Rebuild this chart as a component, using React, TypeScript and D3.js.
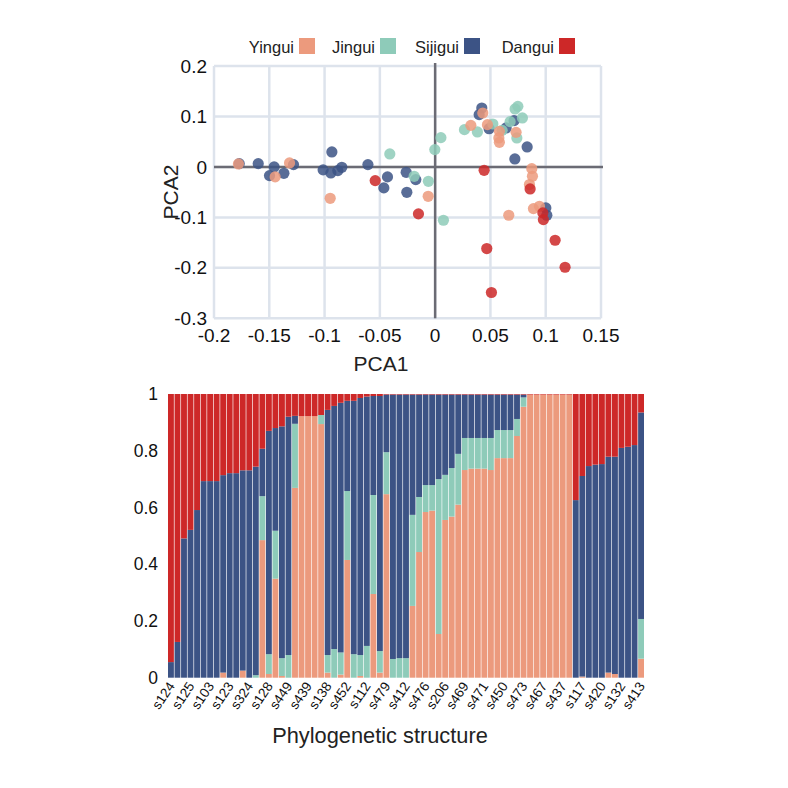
import React from "react";
import * as d3 from "d3";

// ---------- PCA scatter data ----------
const sijiguiPts: [number, number][] = [
  [-0.1772, 0.0065], [-0.160, 0.0065], [-0.1456, 0.0], [-0.1498, -0.0172], [-0.1368, -0.0127],
  [-0.1281, 0.0046], [-0.0934, 0.0297], [-0.1013, -0.0059], [-0.0943, -0.0119], [-0.0880, -0.0073],
  [-0.0844, -0.0008], [-0.0608, 0.0046], [-0.0431, -0.0198], [-0.0262, -0.0107], [-0.0464, -0.0416],
  [-0.0256, -0.0503], [-0.0175, -0.0251], [0.0721, 0.0158], [0.1001, -0.0812], [0.1010, -0.0958],
  [0.0422, 0.1168], [0.0398, 0.1036], [0.0488, 0.0758], [0.0642, 0.0772], [0.0714, 0.0917],
  [0.0832, 0.0396],
];
const jinguiPts: [number, number][] = [
  [-0.0410, 0.0257], [-0.0190, -0.0186], [-0.0061, -0.0285], [0.0075, -0.1057], [0.0052, 0.0580],
  [-0.0003, 0.0343], [0.0265, 0.0739], [0.0382, 0.0693], [0.0522, 0.0851], [0.0606, 0.0725],
  [0.0678, 0.0897], [0.0748, 0.1200], [0.0723, 0.1149], [0.0789, 0.0970], [0.0739, 0.0574],
];
const yinguiPts: [number, number][] = [
  [-0.1779, 0.0059], [-0.1447, -0.0198], [-0.1317, 0.0079], [-0.0949, -0.0622], [-0.0063, -0.0582],
  [0.0874, -0.0034], [0.0880, -0.0186], [0.0853, -0.0350], [0.0889, -0.0826], [0.0943, -0.0780],
  [0.0666, -0.0958], [0.0431, 0.1069], [0.0323, 0.0824], [0.0473, 0.0838], [0.0581, 0.0705],
  [0.0732, 0.0685], [0.0576, 0.0574], [0.0581, 0.0487],
];
const danguiPts: [number, number][] = [
  [-0.0542, -0.0271], [-0.0151, -0.0931], [0.0443, -0.0067], [0.0859, -0.0436], [0.0974, -0.0911],
  [0.0979, -0.1044], [0.0467, -0.1618], [0.1085, -0.1453], [0.1175, -0.1988], [0.0509, -0.2489],
];

const pcaXTicks = [-0.2, -0.15, -0.1, -0.05, 0, 0.05, 0.1, 0.15];
const pcaYTicks = [-0.3, -0.2, -0.1, 0, 0.1, 0.2];

// ---------- Structure bar data (73 samples) ----------
const yinguiQ = [
  0, 0, 0, 0, 0, 0, 0, 0, 0.018, 0, 0, 0.025, 0, 0, 0.485, 0.013, 0.349, 0.006, 0, 0.669,
  0.922, 0.922, 0.922, 0.894, 0.018, 0, 0.011, 0.415, 0, 0.006, 0, 0.295, 0.018, 0.647, 0, 0,
  0, 0.253, 0.443, 0.584, 0.589, 0.154, 0.556, 0.568, 0.610, 0.732, 0.737, 0.737, 0.737, 0.732,
  0.774, 0.774, 0.774, 0.852, 0.955, 0.998, 0.998, 0.998, 0.998, 0.998, 0.998, 0.998, 0, 0.004,
  0, 0, 0, 0.018, 0.013, 0, 0, 0, 0.067,
];
const jinguiQ = [
  0, 0, 0, 0, 0, 0, 0, 0, 0, 0, 0, 0, 0, 0.009, 0.155, 0.070, 0.169, 0.063, 0.080, 0.226,
  0, 0, 0, 0.032, 0.062, 0.101, 0.078, 0.243, 0.083, 0.074, 0.112, 0.349, 0.076, 0.148, 0.066, 0.069,
  0.069, 0.321, 0.194, 0.095, 0.090, 0.546, 0.159, 0.171, 0.179, 0.113, 0.108, 0.108, 0.108, 0.113,
  0.099, 0.099, 0.099, 0.060, 0.033, 0, 0, 0, 0, 0, 0, 0, 0, 0,
  0, 0, 0, 0, 0, 0, 0, 0, 0.140,
];
const sijiguiQ = [
  0.055, 0.126, 0.491, 0.521, 0.591, 0.693, 0.693, 0.693, 0.696, 0.721, 0.721, 0.706, 0.731, 0.735, 0.167, 0.787, 0.362, 0.817, 0.840, 0.028,
  0, 0, 0, 0, 0.864, 0.857, 0.880, 0.318, 0.893, 0.906, 0.879, 0.349, 0.899, 0.203, 0.932, 0.929,
  0.929, 0.424, 0.361, 0.319, 0.319, 0.298, 0.283, 0.259, 0.209, 0.153, 0.153, 0.153, 0.153, 0.153,
  0.125, 0.125, 0.125, 0.086, 0.010, 0, 0, 0, 0, 0, 0, 0, 0.626, 0.707,
  0.746, 0.751, 0.753, 0.761, 0.766, 0.810, 0.814, 0.820, 0.728,
];
const danguiQ = [
  0.945, 0.874, 0.509, 0.479, 0.409, 0.307, 0.307, 0.307, 0.286, 0.279, 0.279, 0.269, 0.269, 0.256, 0.193, 0.130, 0.120, 0.114, 0.080, 0.077,
  0.078, 0.078, 0.078, 0.074, 0.056, 0.042, 0.031, 0.024, 0.024, 0.014, 0.009, 0.007, 0.007, 0.002, 0.002, 0.002,
  0.002, 0.002, 0.002, 0.002, 0.002, 0.002, 0.002, 0.002, 0.002, 0.002, 0.002, 0.002, 0.002, 0.002,
  0.002, 0.002, 0.002, 0.002, 0.002, 0.002, 0.002, 0.002, 0.002, 0.002, 0.002, 0.002, 0.374, 0.289,
  0.254, 0.249, 0.247, 0.221, 0.221, 0.190, 0.186, 0.180, 0.065,
];
// every third sample is labelled
const sampleLabels = [
  "s124", "s125", "s103", "s123", "s324", "s128", "s449", "s439", "s138", "s452", "s112", "s479",
  "s412", "s476", "s206", "s469", "s471", "s450", "s473", "s467", "s437", "s117", "s420", "s132", "s413",
];
const barYTicks = [0, 0.2, 0.4, 0.6, 0.8, 1];

const groups = ["Yingui", "Jingui", "Sijigui", "Dangui"];
const colors: Record<string, string> = {
  Yingui: "#EC9A7D",
  Jingui: "#8ECBB9",
  Sijigui: "#3C5385",
  Dangui: "#CD2828",
};

const FONT = "'Liberation Sans', Arial, Helvetica, sans-serif";

export default function App() {
  // scatter scales
  const sx = d3.scaleLinear().domain([-0.2, 0.15]).range([214, 601]);
  const sy = d3.scaleLinear().domain([-0.3, 0.2]).range([318.3, 66]);

  // bar scales
  const n = yinguiQ.length;
  const bx = d3.scaleBand<number>().domain(d3.range(n)).range([168, 644]).paddingInner(0.1).paddingOuter(0);
  const by = d3.scaleLinear().domain([0, 1]).range([677.7, 394]);

  const rows = d3.range(n).map((i) => ({
    Yingui: yinguiQ[i],
    Jingui: jinguiQ[i],
    Sijigui: sijiguiQ[i],
    Dangui: danguiQ[i],
  }));
  const stacked = d3.stack<any>().keys(groups)(rows);

  const fmt = (v: number) => String(+v.toFixed(2));

  const legendSquareX = [299, 380, 464, 559];

  const scatterOrder: [string, [number, number][]][] = [
    ["Sijigui", sijiguiPts],
    ["Jingui", jinguiPts],
    ["Yingui", yinguiPts],
    ["Dangui", danguiPts],
  ];

  return (
    <svg
      width={788}
      height={788}
      style={{ position: "absolute", left: 0, top: 0, background: "#fff" }}
      fontFamily={FONT}
    >
      <rect x={0} y={0} width={788} height={788} fill="#fff" />
      {/* Legend */}
      {groups.map((g, i) => (
        <g key={g}>
          <text x={legendSquareX[i] - 5} y={52.5} fontSize={16.5} textAnchor="end" fill="#222">
            {g}
          </text>
          <rect x={legendSquareX[i]} y={38} width={16} height={16} fill={colors[g]} />
        </g>
      ))}

      {/* Scatter grid */}
      {pcaXTicks.map((t) => (
        <line key={"gx" + t} x1={sx(t)} x2={sx(t)} y1={sy(0.2)} y2={sy(-0.3)} stroke="#DDE3EC" strokeWidth={2.5} />
      ))}
      {pcaYTicks.map((t) => (
        <line key={"gy" + t} x1={sx(-0.2)} x2={sx(0.15)} y1={sy(t)} y2={sy(t)} stroke="#DDE3EC" strokeWidth={2.5} />
      ))}
      {/* zero lines */}
      <line x1={sx(-0.2)} x2={sx(0.15) + 2} y1={sy(0)} y2={sy(0)} stroke="#6B6B74" strokeWidth={2.5} />
      <line x1={sx(0)} x2={sx(0)} y1={sy(0.2) - 3} y2={sy(-0.3)} stroke="#6B6B74" strokeWidth={2.5} />

      {/* Points */}
      {scatterOrder.map(([g, pts]) =>
        pts.map((p, j) => (
          <circle key={g + j} cx={sx(p[0])} cy={sy(p[1])} r={5.6} fill={colors[g]} fillOpacity={0.85} />
        ))
      )}

      {/* Scatter tick labels */}
      {pcaXTicks.map((t) => (
        <text key={"tx" + t} x={sx(t)} y={342} fontSize={19} textAnchor="middle" fill="#111">
          {fmt(t)}
        </text>
      ))}
      {pcaYTicks.map((t) => (
        <text key={"ty" + t} x={207} y={sy(t)} dy="0.35em" fontSize={19} textAnchor="end" fill="#111">
          {fmt(t)}
        </text>
      ))}
      <text x={381} y={371} fontSize={21} textAnchor="middle" fill="#222">
        PCA1
      </text>
      <text transform="translate(178,192) rotate(-90)" fontSize={21} textAnchor="middle" fill="#222">
        PCA2
      </text>

      {/* Stacked bars */}
      {stacked.map((layer) => (
        <g key={layer.key} fill={colors[layer.key]}>
          {layer.map((d, i) => {
            const h = by(d[0]) - by(d[1]);
            if (h <= 0) return null;
            return <rect key={i} x={bx(i)} y={by(d[1])} width={bx.bandwidth()} height={h} />;
          })}
        </g>
      ))}

      {/* Bar y ticks */}
      {barYTicks.map((t) => (
        <text key={"by" + t} x={158} y={by(t)} dy="0.35em" fontSize={17.5} textAnchor="end" fill="#111">
          {fmt(t)}
        </text>
      ))}

      {/* Bar x labels */}
      {sampleLabels.map((s, i) => {
        const idx = i * 3;
        const cx = (bx(idx) as number) + bx.bandwidth() / 2 + 4.5;
        return (
          <text key={s} transform={`translate(${cx},686) rotate(-56)`} fontSize={13.5} textAnchor="end" fill="#111">
            {s}
          </text>
        );
      })}

      <text x={380} y={743} fontSize={21.8} textAnchor="middle" fill="#222">
        Phylogenetic structure
      </text>
    </svg>
  );
}
